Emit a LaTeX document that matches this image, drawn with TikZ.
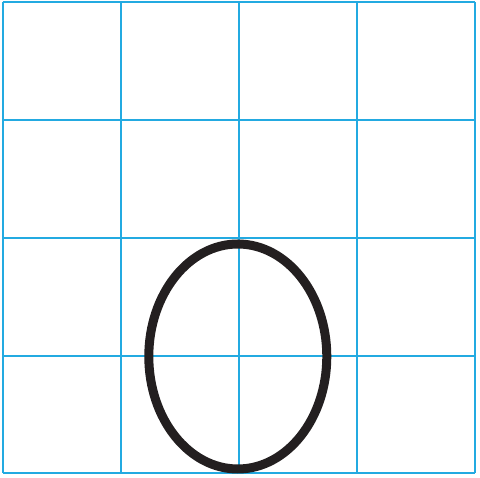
\documentclass[tikz,border=0pt]{standalone}
\definecolor{gridblue}{RGB}{35,170,225}
\definecolor{inkblack}{RGB}{35,31,32}
\begin{document}
\begin{tikzpicture}[x=1pt,y=-1pt,
  gridline/.style={draw=gridblue,line width=2pt},
  oval/.style={draw=inkblack,line width=9pt}]
\useasboundingbox (0,0) rectangle (480,478);
\foreach \i in {0,...,4}{
  \draw[gridline] ({2.5+118*\i},2.5) -- ({2.5+118*\i},473.5);
  \draw[gridline] (2.5,{2.5+117.75*\i}) -- (474.5,{2.5+117.75*\i});
}
\draw[oval] (237.8,356.5) ellipse [x radius=89, y radius=112.5];
\end{tikzpicture}
\end{document}
